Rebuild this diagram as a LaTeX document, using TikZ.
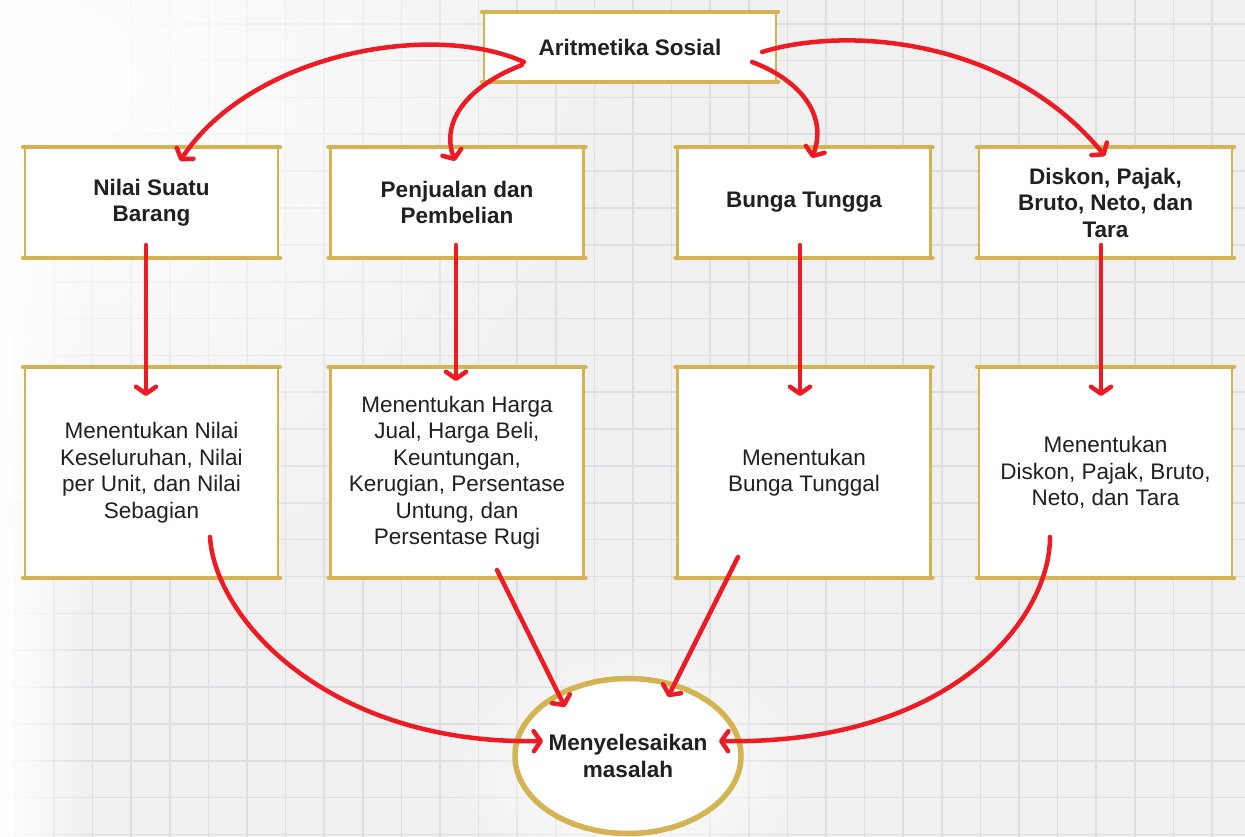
\documentclass[tikz,border=0pt]{standalone}
\usepackage{fontspec}
\setmainfont{Liberation Sans}
\usetikzlibrary{arrows.meta,shapes.geometric,fadings}
\definecolor{gold}{HTML}{D3B352}
\definecolor{redline}{HTML}{ED1C24}
\definecolor{ink}{HTML}{231F20}
\definecolor{bgc}{HTML}{F0F0F0}
\definecolor{gridc}{HTML}{DCDEE2}
\tikzfading[name=radfade, inner color=transparent!0, outer color=transparent!100]
\tikzfading[name=leftfade, left color=transparent!0, right color=transparent!100]
\begin{document}
\begin{tikzpicture}[x=1pt,y=-1pt,
  box/.style={draw=gold, line width=2.5pt, fill=white, inner sep=0pt, outer sep=0pt, align=center, text=ink, font=\fontsize{22.5}{26.5}\selectfont},
  hbox/.style={box, font=\bfseries\fontsize{22.5}{26.5}\selectfont, minimum width=253pt, minimum height=111pt},
  lbox/.style={box, minimum width=253pt, minimum height=211pt},
  edge/.style={gold, line width=4.5pt, line cap=round},
  conn/.style={draw=redline, line width=4.5pt, line cap=round, -{Straight Barb[length=7pt,width=20pt,round]}},
]
\useasboundingbox (0,0) rectangle (1245,837);
% background
\fill[bgc] (0,0) rectangle (1245,837);
\foreach \i in {-15,...,17} \draw[gridc, line width=1.6pt] (594.3+38.6*\i,0) -- (594.3+38.6*\i,837);
\foreach \j in {-7,...,15} \draw[gridc, line width=1.6pt] (0,281.7+36.85*\j) -- (1245,281.7+36.85*\j);
\fill[white, path fading=radfade] (-520,-480) rectangle (640,640);
\fill[white, path fading=leftfade] (0,0) rectangle (90,837);
\fill[white, path fading=radfade] (440,640) rectangle (820,900);

% boxes
\node[box, font=\bfseries\fontsize{22.5}{26.5}\selectfont, minimum width=292pt, minimum height=70pt] (top) at (630,47) {Aritmetika Sosial};
\node[hbox] (a1) at (151.5,202.5) {Nilai Suatu\\Barang};
\node[hbox] (a2) at (457,202.5) {Penjualan dan\\Pembelian};
\node[hbox] (a3) at (804,202.5) {Bunga Tungga};
\node[hbox] (a4) at (1105.5,202.5) {Diskon, Pajak,\\Bruto, Neto, dan\\Tara};
\node[lbox] (b1) at (151.5,472.5) {Menentukan Nilai\\Keseluruhan, Nilai\\per Unit, dan Nilai\\Sebagian};
\node[lbox] (b2) at (457,472.5) {Menentukan Harga\\Jual, Harga Beli,\\Keuntungan,\\Kerugian, Persentase\\Untung, dan\\Persentase Rugi};
\node[lbox] (b3) at (804,472.5) {Menentukan\\Bunga Tunggal};
\node[lbox] (b4) at (1105.5,472.5) {Menentukan\\Diskon, Pajak, Bruto,\\Neto, dan Tara};
\foreach \n in {top,a1,a2,a3,a4,b1,b2,b3,b4}{
  \draw[edge] ([xshift=-2pt]\n.north west) -- ([xshift=2pt]\n.north east);
  \draw[edge] ([xshift=-2pt]\n.south west) -- ([xshift=2pt]\n.south east);
}
\node[ellipse, draw=gold, line width=5.5pt, fill=white, inner sep=0pt, minimum width=226pt, minimum height=155pt, align=center, text=ink, font=\bfseries\fontsize{22.5}{26.5}\selectfont] (goal) at (628,756) {Menyelesaikan\\masalah};

% connector end points
\coordinate (s1) at (524,62);
\coordinate (s2) at (522,65);
\coordinate (s3) at (752,62);
\coordinate (s4) at (762,52);
\coordinate (e1) at (180,161);
\coordinate (e2) at (455,161);
\coordinate (e3) at (812,158);
\coordinate (e4) at (1105,156);
\coordinate (v1s) at (146,245); \coordinate (v1e) at (146,396);
\coordinate (v2s) at (456,245); \coordinate (v2e) at (456,381);
\coordinate (v3s) at (800,245); \coordinate (v3e) at (800,396);
\coordinate (v4s) at (1101,245); \coordinate (v4e) at (1101,396);
\coordinate (w1s) at (210,537); \coordinate (w1e) at (543,741);
\coordinate (w2s) at (497,570); \coordinate (w2e) at (565,707);
\coordinate (w3s) at (738,557); \coordinate (w3e) at (668,697);
\coordinate (w4s) at (1050,537); \coordinate (w4e) at (719,741);

% connectors
\draw[conn] (s1) .. controls (430,20) and (250,55) .. (e1);
\draw[conn] (s2) .. controls (470,85) and (440,120) .. (e2);
\draw[conn] (s3) .. controls (800,80) and (828,115) .. (e3);
\draw[conn] (s4) .. controls (850,25) and (1010,40) .. (e4);
\draw[conn] (v1s) -- (v1e);
\draw[conn] (v2s) -- (v2e);
\draw[conn] (v3s) -- (v3e);
\draw[conn] (v4s) -- (v4e);
\draw[conn] (w1s) .. controls (215,620) and (330,745) .. (w1e);
\draw[conn] (w2s) -- (w2e);
\draw[conn] (w3s) -- (w3e);
\draw[conn] (w4s) .. controls (1050,620) and (950,745) .. (w4e);
\end{tikzpicture}
\end{document}
